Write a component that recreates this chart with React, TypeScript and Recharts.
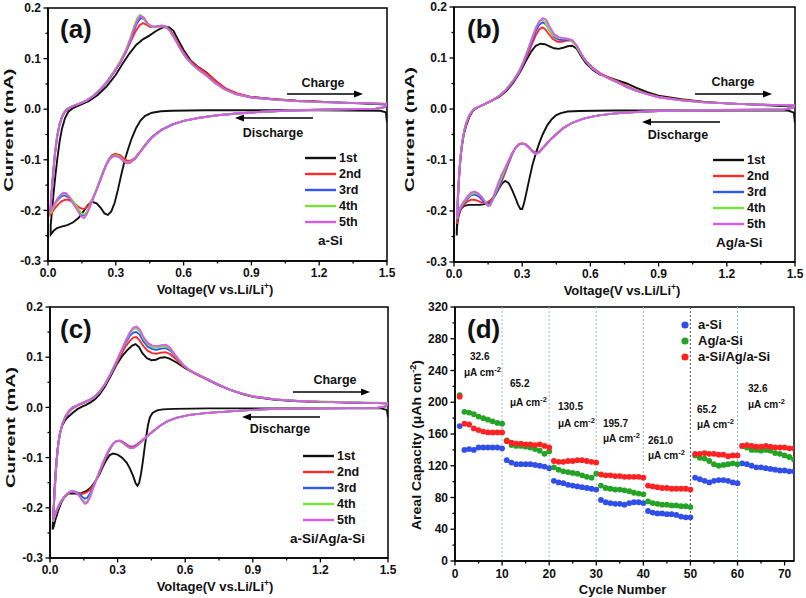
import React from 'react';
import {
  LineChart, Line, ScatterChart, Scatter, XAxis, YAxis,
  ReferenceArea, ReferenceLine, Legend,
} from 'recharts';

const FONT = '"Liberation Sans", Arial, Helvetica, sans-serif';

type Pt = [number, number];

// ---------- (a) a-Si : [voltage V, current mA], discharge then charge ----------
const aCycle1: Pt[] = [
  [1.5, -0.027], [1.495, -0.006], [1.47, -0.003], [1.2, -0.002], [0.9, -0.002], [0.7, -0.002], [0.55, -0.003],
  [0.5, -0.004], [0.46, -0.007], [0.43, -0.013], [0.41, -0.022], [0.39, -0.037], [0.37, -0.058], [0.355, -0.078],
  [0.34, -0.1], [0.325, -0.128], [0.31, -0.158], [0.295, -0.185], [0.28, -0.202], [0.265, -0.209], [0.25, -0.206],
  [0.235, -0.196], [0.215, -0.186], [0.195, -0.183], [0.175, -0.19], [0.155, -0.203], [0.135, -0.215], [0.11, -0.224],
  [0.085, -0.229], [0.06, -0.232], [0.04, -0.235], [0.025, -0.24], [0.012, -0.248],
  [0.012, -0.228], [0.018, -0.2], [0.025, -0.165], [0.033, -0.13], [0.042, -0.095], [0.052, -0.062], [0.062, -0.038],
  [0.075, -0.018], [0.09, -0.005], [0.11, 0.002], [0.14, 0.008], [0.18, 0.016], [0.22, 0.028], [0.26, 0.045],
  [0.3, 0.068], [0.33, 0.09], [0.36, 0.11], [0.39, 0.127], [0.42, 0.138], [0.45, 0.146], [0.48, 0.155], [0.51, 0.162],
  [0.535, 0.162], [0.555, 0.155], [0.575, 0.138], [0.6, 0.117], [0.63, 0.097], [0.66, 0.085], [0.7, 0.073],
  [0.74, 0.057], [0.78, 0.042], [0.83, 0.031], [0.9, 0.024], [1.0, 0.02], [1.1, 0.017], [1.2, 0.015], [1.3, 0.013],
  [1.4, 0.011], [1.5, 0.009],
];
const aCycle2: Pt[] = [
  [1.5, 0.01], [1.49, 0.004], [1.45, 0.001], [1.3, 0], [1.1, -0.002], [0.95, -0.005], [0.85, -0.008], [0.75, -0.012],
  [0.67, -0.017], [0.6, -0.023], [0.55, -0.03], [0.5, -0.041], [0.46, -0.055], [0.43, -0.07], [0.405, -0.085],
  [0.385, -0.096], [0.365, -0.102], [0.35, -0.102], [0.335, -0.097], [0.32, -0.091], [0.3, -0.088], [0.285, -0.09],
  [0.27, -0.098], [0.255, -0.112], [0.24, -0.13], [0.225, -0.148], [0.21, -0.164], [0.195, -0.179], [0.18, -0.19],
  [0.165, -0.196], [0.15, -0.197], [0.135, -0.193], [0.12, -0.187], [0.105, -0.182], [0.09, -0.179], [0.075, -0.179],
  [0.06, -0.182], [0.045, -0.188], [0.03, -0.196], [0.018, -0.204], [0.01, -0.208],
  [0.01, -0.2], [0.015, -0.17], [0.022, -0.133], [0.03, -0.093], [0.04, -0.057], [0.05, -0.033], [0.062, -0.016],
  [0.075, -0.005], [0.09, 0.001], [0.11, 0.006], [0.14, 0.011], [0.17, 0.017], [0.2, 0.026], [0.23, 0.038],
  [0.26, 0.053], [0.29, 0.071], [0.32, 0.092], [0.345, 0.113], [0.365, 0.133], [0.385, 0.152], [0.405, 0.166],
  [0.42, 0.17], [0.435, 0.167], [0.45, 0.163], [0.47, 0.162], [0.49, 0.164], [0.51, 0.165], [0.53, 0.161],
  [0.55, 0.15], [0.57, 0.135], [0.595, 0.116], [0.62, 0.1], [0.65, 0.087], [0.68, 0.078], [0.71, 0.068],
  [0.75, 0.053], [0.79, 0.04], [0.84, 0.031], [0.9, 0.024], [1.0, 0.02], [1.1, 0.017], [1.2, 0.015], [1.3, 0.013],
  [1.4, 0.012], [1.5, 0.01],
];
const aCycle3: Pt[] = [
  [1.5, 0.01], [1.49, 0.004], [1.45, 0.001], [1.3, 0], [1.1, -0.002], [0.95, -0.005], [0.85, -0.008], [0.75, -0.012],
  [0.67, -0.017], [0.6, -0.023], [0.55, -0.03], [0.5, -0.041], [0.46, -0.055], [0.43, -0.071], [0.405, -0.086],
  [0.385, -0.098], [0.365, -0.105], [0.35, -0.107], [0.335, -0.103], [0.32, -0.096], [0.305, -0.092], [0.29, -0.092],
  [0.275, -0.097], [0.26, -0.107], [0.245, -0.122], [0.23, -0.14], [0.215, -0.158], [0.2, -0.175], [0.185, -0.192],
  [0.172, -0.204], [0.162, -0.21], [0.152, -0.209], [0.14, -0.203], [0.125, -0.193], [0.11, -0.184], [0.095, -0.176],
  [0.08, -0.171], [0.068, -0.17], [0.055, -0.174], [0.04, -0.181], [0.025, -0.192], [0.012, -0.202],
  [0.012, -0.195], [0.016, -0.165], [0.022, -0.13], [0.03, -0.09], [0.04, -0.055], [0.05, -0.032], [0.062, -0.015],
  [0.075, -0.004], [0.09, 0.002], [0.11, 0.006], [0.14, 0.011], [0.17, 0.017], [0.2, 0.026], [0.23, 0.038],
  [0.26, 0.053], [0.29, 0.072], [0.32, 0.093], [0.345, 0.114], [0.365, 0.136], [0.38, 0.155], [0.395, 0.171],
  [0.41, 0.18], [0.425, 0.178], [0.44, 0.169], [0.46, 0.163], [0.48, 0.163], [0.5, 0.165], [0.52, 0.164],
  [0.54, 0.155], [0.56, 0.14], [0.585, 0.12], [0.61, 0.103], [0.64, 0.088], [0.67, 0.077], [0.7, 0.067],
  [0.74, 0.052], [0.78, 0.04], [0.83, 0.03], [0.9, 0.023], [1.0, 0.019], [1.1, 0.016], [1.2, 0.014], [1.3, 0.013],
  [1.4, 0.012], [1.5, 0.01],
];
const aCycle4: Pt[] = [
  [1.5, 0.01], [1.49, 0.004], [1.45, 0.001], [1.3, 0], [1.1, -0.002], [0.95, -0.005], [0.85, -0.008], [0.75, -0.012],
  [0.67, -0.017], [0.6, -0.023], [0.55, -0.031], [0.5, -0.042], [0.46, -0.056], [0.43, -0.071], [0.405, -0.086],
  [0.385, -0.097], [0.365, -0.104], [0.35, -0.106], [0.335, -0.102], [0.32, -0.095], [0.305, -0.091], [0.29, -0.092],
  [0.275, -0.097], [0.26, -0.107], [0.245, -0.122], [0.23, -0.14], [0.215, -0.158], [0.2, -0.175], [0.185, -0.191],
  [0.172, -0.203], [0.162, -0.208], [0.152, -0.207], [0.14, -0.201], [0.125, -0.191], [0.11, -0.181], [0.095, -0.173],
  [0.08, -0.168], [0.068, -0.167], [0.055, -0.171], [0.04, -0.18], [0.025, -0.193], [0.012, -0.206],
  [0.012, -0.198], [0.016, -0.167], [0.022, -0.131], [0.03, -0.09], [0.04, -0.054], [0.05, -0.031], [0.062, -0.014],
  [0.075, -0.003], [0.09, 0.002], [0.11, 0.006], [0.14, 0.011], [0.17, 0.017], [0.2, 0.026], [0.23, 0.039],
  [0.26, 0.055], [0.29, 0.074], [0.32, 0.096], [0.345, 0.118], [0.365, 0.142], [0.38, 0.163], [0.395, 0.18],
  [0.405, 0.186], [0.42, 0.181], [0.44, 0.169], [0.46, 0.163], [0.48, 0.162], [0.5, 0.164], [0.52, 0.163],
  [0.54, 0.154], [0.56, 0.139], [0.585, 0.119], [0.61, 0.102], [0.64, 0.087], [0.67, 0.076], [0.7, 0.066],
  [0.74, 0.051], [0.78, 0.039], [0.83, 0.03], [0.9, 0.023], [1.0, 0.019], [1.1, 0.016], [1.2, 0.014], [1.3, 0.013],
  [1.4, 0.012], [1.5, 0.011],
];
const aCycle5: Pt[] = [
  [1.5, 0.01], [1.49, 0.004], [1.45, 0.001], [1.3, 0], [1.1, -0.002], [0.95, -0.005], [0.85, -0.008], [0.75, -0.012],
  [0.67, -0.017], [0.6, -0.023], [0.55, -0.031], [0.5, -0.042], [0.46, -0.056], [0.43, -0.072], [0.405, -0.087],
  [0.385, -0.098], [0.365, -0.105], [0.35, -0.107], [0.335, -0.103], [0.32, -0.096], [0.305, -0.093], [0.29, -0.093],
  [0.275, -0.098], [0.26, -0.108], [0.245, -0.124], [0.23, -0.142], [0.215, -0.16], [0.2, -0.177], [0.185, -0.194],
  [0.172, -0.207], [0.16, -0.215], [0.15, -0.213], [0.14, -0.207], [0.125, -0.196], [0.11, -0.186], [0.095, -0.174],
  [0.08, -0.166], [0.068, -0.165], [0.055, -0.17], [0.04, -0.178], [0.025, -0.19], [0.012, -0.2],
  [0.012, -0.193], [0.016, -0.163], [0.022, -0.128], [0.03, -0.089], [0.04, -0.054], [0.05, -0.031], [0.062, -0.014],
  [0.075, -0.004], [0.09, 0.002], [0.11, 0.006], [0.14, 0.011], [0.17, 0.017], [0.2, 0.026], [0.23, 0.038],
  [0.26, 0.053], [0.29, 0.072], [0.32, 0.093], [0.345, 0.115], [0.365, 0.138], [0.38, 0.158], [0.395, 0.175],
  [0.41, 0.185], [0.425, 0.181], [0.44, 0.17], [0.46, 0.164], [0.48, 0.163], [0.5, 0.165], [0.52, 0.164],
  [0.54, 0.155], [0.56, 0.14], [0.585, 0.12], [0.61, 0.103], [0.64, 0.088], [0.67, 0.077], [0.7, 0.067],
  [0.74, 0.052], [0.78, 0.04], [0.83, 0.03], [0.9, 0.023], [1.0, 0.019], [1.1, 0.016], [1.2, 0.014], [1.3, 0.013],
  [1.4, 0.012], [1.48, 0.011], [1.5, 0.01],
];

// ---------- (b) Ag/a-Si ----------
const bCycle1: Pt[] = [
  [1.5, -0.028], [1.495, -0.007], [1.47, -0.003], [1.2, -0.003], [0.9, -0.003], [0.7, -0.003], [0.55, -0.004],
  [0.5, -0.005], [0.47, -0.008], [0.45, -0.012], [0.43, -0.02], [0.41, -0.032], [0.39, -0.05], [0.375, -0.067],
  [0.36, -0.087], [0.345, -0.11], [0.33, -0.14], [0.318, -0.165], [0.308, -0.185], [0.3, -0.196], [0.292, -0.196],
  [0.282, -0.188], [0.27, -0.174], [0.255, -0.158], [0.24, -0.145], [0.225, -0.141], [0.21, -0.147], [0.195, -0.158],
  [0.18, -0.169], [0.16, -0.18], [0.14, -0.186], [0.115, -0.188], [0.09, -0.188], [0.065, -0.188], [0.045, -0.19],
  [0.03, -0.196], [0.02, -0.21], [0.014, -0.228], [0.012, -0.248],
  [0.012, -0.24], [0.016, -0.19], [0.02, -0.15], [0.026, -0.11], [0.033, -0.078], [0.042, -0.052], [0.054, -0.032],
  [0.068, -0.015], [0.084, -0.003], [0.1, 0.002], [0.128, 0.008], [0.16, 0.015], [0.2, 0.024], [0.23, 0.035],
  [0.26, 0.051], [0.29, 0.072], [0.315, 0.093], [0.34, 0.113], [0.36, 0.124], [0.38, 0.128], [0.4, 0.127],
  [0.42, 0.123], [0.44, 0.119], [0.46, 0.118], [0.48, 0.12], [0.5, 0.123], [0.52, 0.124], [0.54, 0.118],
  [0.56, 0.103], [0.58, 0.09], [0.61, 0.077], [0.64, 0.068], [0.68, 0.062], [0.72, 0.056], [0.76, 0.05],
  [0.8, 0.042], [0.85, 0.033], [0.9, 0.026], [1.0, 0.019], [1.1, 0.014], [1.2, 0.011], [1.3, 0.009], [1.4, 0.007],
  [1.5, 0.005],
];
const bCycle2: Pt[] = [
  [1.5, 0.007], [1.49, 0.002], [1.45, -0.001], [1.2, -0.002], [1.0, -0.003], [0.9, -0.004], [0.8, -0.006],
  [0.7, -0.009], [0.63, -0.013], [0.57, -0.019], [0.52, -0.027], [0.48, -0.037], [0.45, -0.049], [0.42, -0.061],
  [0.395, -0.074], [0.375, -0.083], [0.36, -0.086], [0.345, -0.082], [0.33, -0.075], [0.315, -0.069], [0.3, -0.067],
  [0.285, -0.069], [0.27, -0.077], [0.255, -0.09], [0.24, -0.107], [0.225, -0.125], [0.21, -0.142], [0.195, -0.158],
  [0.18, -0.17], [0.165, -0.178], [0.15, -0.182], [0.135, -0.184], [0.12, -0.183], [0.105, -0.18], [0.09, -0.178],
  [0.075, -0.178], [0.06, -0.181], [0.045, -0.187], [0.03, -0.196], [0.02, -0.207], [0.013, -0.225],
  [0.013, -0.22], [0.017, -0.18], [0.022, -0.138], [0.028, -0.1], [0.036, -0.068], [0.045, -0.044], [0.055, -0.027],
  [0.068, -0.013], [0.084, -0.003], [0.1, 0.002], [0.128, 0.008], [0.16, 0.015], [0.2, 0.025], [0.23, 0.037],
  [0.26, 0.053], [0.285, 0.07], [0.305, 0.088], [0.325, 0.108], [0.345, 0.129], [0.36, 0.145], [0.375, 0.156],
  [0.388, 0.16], [0.4, 0.157], [0.415, 0.148], [0.435, 0.137], [0.455, 0.132], [0.475, 0.132], [0.495, 0.134],
  [0.515, 0.134], [0.535, 0.126], [0.555, 0.111], [0.575, 0.097], [0.605, 0.083], [0.64, 0.071], [0.68, 0.062],
  [0.72, 0.054], [0.76, 0.045], [0.8, 0.037], [0.85, 0.03], [0.9, 0.024], [1.0, 0.018], [1.1, 0.014], [1.2, 0.011],
  [1.3, 0.009], [1.4, 0.008], [1.5, 0.007],
];
const bCycle3: Pt[] = [
  [1.5, 0.007], [1.49, 0.002], [1.45, -0.001], [1.2, -0.002], [1.0, -0.003], [0.9, -0.004], [0.8, -0.006],
  [0.7, -0.009], [0.63, -0.013], [0.57, -0.019], [0.52, -0.027], [0.48, -0.038], [0.45, -0.05], [0.42, -0.062],
  [0.395, -0.075], [0.375, -0.084], [0.36, -0.087], [0.345, -0.083], [0.33, -0.076], [0.315, -0.07], [0.3, -0.068],
  [0.285, -0.07], [0.27, -0.076], [0.255, -0.088], [0.24, -0.104], [0.225, -0.121], [0.21, -0.138], [0.195, -0.155],
  [0.18, -0.17], [0.165, -0.181], [0.152, -0.186], [0.14, -0.186], [0.128, -0.181], [0.115, -0.174], [0.1, -0.169],
  [0.087, -0.168], [0.073, -0.17], [0.06, -0.176], [0.045, -0.184], [0.03, -0.194], [0.02, -0.204], [0.013, -0.218],
  [0.013, -0.212], [0.017, -0.172], [0.022, -0.132], [0.028, -0.096], [0.036, -0.066], [0.045, -0.043],
  [0.055, -0.026], [0.068, -0.012], [0.084, -0.002], [0.1, 0.003], [0.128, 0.008], [0.16, 0.015], [0.2, 0.026],
  [0.23, 0.038], [0.26, 0.054], [0.285, 0.071], [0.305, 0.09], [0.325, 0.112], [0.345, 0.135], [0.36, 0.153],
  [0.375, 0.165], [0.39, 0.17], [0.405, 0.166], [0.42, 0.154], [0.44, 0.141], [0.46, 0.136], [0.48, 0.135],
  [0.5, 0.136], [0.52, 0.134], [0.54, 0.124], [0.56, 0.108], [0.58, 0.094], [0.61, 0.08], [0.64, 0.069],
  [0.68, 0.06], [0.72, 0.052], [0.76, 0.043], [0.8, 0.036], [0.85, 0.029], [0.9, 0.023], [1.0, 0.017],
  [1.1, 0.013], [1.2, 0.011], [1.3, 0.009], [1.4, 0.008], [1.5, 0.007],
];
const bCycle4: Pt[] = [
  [1.5, 0.007], [1.49, 0.002], [1.45, -0.001], [1.2, -0.002], [1.0, -0.003], [0.9, -0.004], [0.8, -0.006],
  [0.7, -0.009], [0.63, -0.013], [0.57, -0.019], [0.52, -0.027], [0.48, -0.038], [0.45, -0.05], [0.42, -0.062],
  [0.395, -0.075], [0.375, -0.085], [0.36, -0.088], [0.345, -0.084], [0.33, -0.076], [0.315, -0.07], [0.3, -0.068],
  [0.285, -0.07], [0.27, -0.076], [0.255, -0.087], [0.24, -0.102], [0.225, -0.118], [0.21, -0.134], [0.195, -0.15],
  [0.18, -0.166], [0.168, -0.181], [0.157, -0.189], [0.147, -0.188], [0.135, -0.18], [0.12, -0.171], [0.105, -0.166],
  [0.09, -0.165], [0.075, -0.167], [0.06, -0.173], [0.045, -0.182], [0.03, -0.192], [0.02, -0.202], [0.013, -0.216],
  [0.013, -0.21], [0.017, -0.17], [0.022, -0.13], [0.028, -0.094], [0.036, -0.064], [0.045, -0.041],
  [0.055, -0.025], [0.068, -0.011], [0.084, -0.001], [0.1, 0.003], [0.128, 0.008], [0.16, 0.015], [0.2, 0.026],
  [0.23, 0.039], [0.26, 0.056], [0.285, 0.074], [0.305, 0.093], [0.325, 0.117], [0.345, 0.142], [0.36, 0.16],
  [0.375, 0.172], [0.387, 0.175], [0.4, 0.171], [0.415, 0.158], [0.435, 0.145], [0.455, 0.14], [0.475, 0.139],
  [0.495, 0.138], [0.515, 0.135], [0.535, 0.125], [0.555, 0.11], [0.575, 0.096], [0.605, 0.081], [0.64, 0.069],
  [0.68, 0.06], [0.72, 0.052], [0.76, 0.043], [0.8, 0.036], [0.85, 0.029], [0.9, 0.023], [1.0, 0.017],
  [1.1, 0.013], [1.2, 0.011], [1.3, 0.009], [1.4, 0.008], [1.5, 0.007],
];
const bCycle5: Pt[] = [
  [1.5, 0.007], [1.49, 0.002], [1.45, -0.001], [1.2, -0.002], [1.0, -0.003], [0.9, -0.004], [0.8, -0.006],
  [0.7, -0.009], [0.63, -0.013], [0.57, -0.019], [0.52, -0.027], [0.48, -0.038], [0.45, -0.05], [0.42, -0.062],
  [0.395, -0.075], [0.375, -0.085], [0.36, -0.088], [0.345, -0.084], [0.33, -0.076], [0.315, -0.07], [0.3, -0.068],
  [0.285, -0.07], [0.27, -0.076], [0.255, -0.087], [0.24, -0.101], [0.225, -0.115], [0.21, -0.128], [0.195, -0.145],
  [0.18, -0.163], [0.168, -0.18], [0.158, -0.19], [0.148, -0.19], [0.135, -0.182], [0.12, -0.172], [0.105, -0.165],
  [0.09, -0.162], [0.075, -0.164], [0.06, -0.171], [0.045, -0.18], [0.03, -0.19], [0.02, -0.2], [0.013, -0.215],
  [0.013, -0.21], [0.017, -0.17], [0.022, -0.13], [0.028, -0.095], [0.036, -0.065], [0.045, -0.042],
  [0.055, -0.026], [0.068, -0.012], [0.084, -0.002], [0.1, 0.003], [0.128, 0.008], [0.16, 0.015], [0.2, 0.026],
  [0.23, 0.038], [0.26, 0.055], [0.285, 0.072], [0.305, 0.092], [0.325, 0.115], [0.345, 0.14], [0.36, 0.158],
  [0.375, 0.171], [0.39, 0.178], [0.405, 0.175], [0.42, 0.162], [0.44, 0.147], [0.46, 0.141], [0.48, 0.139],
  [0.5, 0.138], [0.52, 0.135], [0.54, 0.124], [0.56, 0.108], [0.58, 0.094], [0.61, 0.08], [0.64, 0.069],
  [0.68, 0.06], [0.72, 0.052], [0.76, 0.043], [0.8, 0.036], [0.85, 0.029], [0.9, 0.023], [1.0, 0.017],
  [1.1, 0.013], [1.2, 0.011], [1.3, 0.009], [1.4, 0.008], [1.5, 0.007],
];

// ---------- (c) a-Si/Ag/a-Si ----------
const cCycle1: Pt[] = [
  [1.5, -0.02], [1.495, -0.005], [1.47, -0.002], [1.2, -0.002], [0.9, -0.002], [0.7, -0.002], [0.55, -0.003],
  [0.5, -0.004], [0.475, -0.006], [0.455, -0.011], [0.443, -0.02], [0.435, -0.035], [0.428, -0.055], [0.42, -0.08],
  [0.412, -0.108], [0.404, -0.132], [0.396, -0.15], [0.388, -0.156], [0.38, -0.151], [0.37, -0.138], [0.355, -0.122],
  [0.34, -0.11], [0.32, -0.1], [0.3, -0.094], [0.28, -0.092], [0.265, -0.095], [0.25, -0.105], [0.235, -0.118],
  [0.22, -0.133], [0.2, -0.148], [0.18, -0.16], [0.16, -0.167], [0.14, -0.171], [0.12, -0.172], [0.1, -0.171],
  [0.08, -0.172], [0.065, -0.178], [0.05, -0.19], [0.037, -0.205], [0.025, -0.222], [0.017, -0.236], [0.012, -0.243],
  [0.012, -0.238], [0.016, -0.2], [0.02, -0.16], [0.026, -0.12], [0.033, -0.085], [0.042, -0.056], [0.052, -0.038],
  [0.065, -0.027], [0.08, -0.019], [0.1, -0.011], [0.12, -0.004], [0.14, 0.001], [0.16, 0.005], [0.18, 0.01],
  [0.2, 0.016], [0.22, 0.026], [0.245, 0.042], [0.27, 0.063], [0.295, 0.085], [0.32, 0.102], [0.345, 0.115],
  [0.365, 0.123], [0.38, 0.126], [0.395, 0.12], [0.41, 0.108], [0.43, 0.098], [0.45, 0.094], [0.47, 0.095],
  [0.49, 0.099], [0.51, 0.1], [0.53, 0.097], [0.56, 0.09], [0.6, 0.078], [0.65, 0.066], [0.7, 0.055], [0.75, 0.044],
  [0.8, 0.035], [0.85, 0.027], [0.9, 0.021], [1.0, 0.015], [1.1, 0.012], [1.2, 0.011], [1.3, 0.01], [1.4, 0.009],
  [1.5, 0.008],
];
const cCycle2: Pt[] = [
  [1.5, 0.008], [1.49, 0.002], [1.45, -0.001], [1.2, -0.002], [1.0, -0.003], [0.9, -0.005], [0.8, -0.008],
  [0.7, -0.011], [0.62, -0.015], [0.56, -0.021], [0.52, -0.028], [0.49, -0.036], [0.46, -0.046], [0.43, -0.057],
  [0.405, -0.067], [0.385, -0.074], [0.37, -0.078], [0.355, -0.078], [0.34, -0.074], [0.325, -0.069], [0.31, -0.066],
  [0.295, -0.067], [0.28, -0.073], [0.265, -0.084], [0.25, -0.098], [0.235, -0.114], [0.22, -0.13], [0.205, -0.145],
  [0.19, -0.157], [0.175, -0.165], [0.16, -0.17], [0.145, -0.172], [0.13, -0.172], [0.115, -0.17], [0.1, -0.168],
  [0.088, -0.169], [0.075, -0.174], [0.06, -0.181], [0.045, -0.191], [0.032, -0.203], [0.022, -0.215], [0.014, -0.228],
  [0.014, -0.224], [0.018, -0.19], [0.023, -0.15], [0.029, -0.11], [0.036, -0.076], [0.045, -0.051], [0.055, -0.035],
  [0.068, -0.02], [0.085, -0.008], [0.1, -0.002], [0.12, 0.003], [0.14, 0.007], [0.16, 0.011], [0.18, 0.016],
  [0.2, 0.022], [0.22, 0.031], [0.245, 0.046], [0.27, 0.066], [0.295, 0.088], [0.315, 0.105], [0.335, 0.121],
  [0.355, 0.133], [0.37, 0.139], [0.383, 0.14], [0.397, 0.134], [0.413, 0.123], [0.433, 0.113], [0.453, 0.108],
  [0.473, 0.107], [0.493, 0.109], [0.513, 0.11], [0.533, 0.106], [0.56, 0.096], [0.59, 0.083], [0.62, 0.073],
  [0.66, 0.064], [0.7, 0.056], [0.75, 0.045], [0.8, 0.035], [0.85, 0.028], [0.9, 0.022], [1.0, 0.016], [1.1, 0.013],
  [1.2, 0.011], [1.3, 0.01], [1.4, 0.009], [1.5, 0.008],
];
const cCycle3: Pt[] = [
  [1.5, 0.008], [1.49, 0.002], [1.45, -0.001], [1.2, -0.002], [1.0, -0.003], [0.9, -0.005], [0.8, -0.008],
  [0.7, -0.011], [0.62, -0.015], [0.56, -0.021], [0.52, -0.028], [0.49, -0.036], [0.46, -0.047], [0.43, -0.058],
  [0.405, -0.068], [0.385, -0.076], [0.37, -0.08], [0.355, -0.08], [0.34, -0.076], [0.325, -0.07], [0.31, -0.067],
  [0.295, -0.067], [0.28, -0.072], [0.265, -0.083], [0.25, -0.096], [0.235, -0.112], [0.22, -0.128], [0.205, -0.145],
  [0.19, -0.16], [0.177, -0.172], [0.165, -0.18], [0.155, -0.182], [0.145, -0.179], [0.132, -0.173], [0.118, -0.169],
  [0.103, -0.167], [0.09, -0.168], [0.075, -0.173], [0.06, -0.18], [0.045, -0.19], [0.032, -0.202], [0.022, -0.214],
  [0.014, -0.226],
  [0.014, -0.222], [0.018, -0.19], [0.023, -0.15], [0.029, -0.11], [0.036, -0.075], [0.045, -0.05], [0.055, -0.033],
  [0.068, -0.019], [0.085, -0.007], [0.1, -0.001], [0.12, 0.004], [0.14, 0.008], [0.16, 0.012], [0.18, 0.016],
  [0.2, 0.022], [0.22, 0.031], [0.245, 0.047], [0.27, 0.067], [0.295, 0.09], [0.315, 0.11], [0.335, 0.128],
  [0.355, 0.143], [0.37, 0.149], [0.383, 0.15], [0.398, 0.145], [0.414, 0.132], [0.434, 0.121], [0.454, 0.116],
  [0.474, 0.115], [0.494, 0.117], [0.514, 0.118], [0.534, 0.113], [0.56, 0.1], [0.59, 0.085], [0.62, 0.074],
  [0.66, 0.065], [0.7, 0.056], [0.75, 0.045], [0.8, 0.035], [0.85, 0.028], [0.9, 0.022], [1.0, 0.016], [1.1, 0.013],
  [1.2, 0.011], [1.3, 0.01], [1.4, 0.009], [1.5, 0.008],
];
const cCycle4: Pt[] = [
  [1.5, 0.009], [1.49, 0.002], [1.45, -0.001], [1.2, -0.002], [1.0, -0.003], [0.9, -0.005], [0.8, -0.008],
  [0.7, -0.011], [0.62, -0.015], [0.56, -0.021], [0.52, -0.028], [0.49, -0.036], [0.46, -0.047], [0.43, -0.058],
  [0.405, -0.069], [0.385, -0.077], [0.37, -0.081], [0.355, -0.081], [0.34, -0.077], [0.325, -0.071], [0.31, -0.067],
  [0.295, -0.067], [0.28, -0.072], [0.265, -0.082], [0.25, -0.095], [0.235, -0.11], [0.22, -0.127], [0.205, -0.145],
  [0.19, -0.162], [0.177, -0.178], [0.165, -0.187], [0.156, -0.189], [0.146, -0.185], [0.132, -0.177], [0.118, -0.17],
  [0.103, -0.167], [0.09, -0.168], [0.075, -0.173], [0.06, -0.181], [0.045, -0.191], [0.032, -0.203], [0.022, -0.215],
  [0.014, -0.228],
  [0.014, -0.224], [0.018, -0.19], [0.023, -0.15], [0.029, -0.11], [0.036, -0.075], [0.045, -0.05], [0.055, -0.032],
  [0.068, -0.018], [0.085, -0.006], [0.1, 0], [0.12, 0.004], [0.14, 0.008], [0.16, 0.012], [0.18, 0.016],
  [0.2, 0.022], [0.22, 0.031], [0.245, 0.047], [0.27, 0.068], [0.295, 0.091], [0.315, 0.111], [0.335, 0.131],
  [0.355, 0.148], [0.37, 0.156], [0.384, 0.157], [0.399, 0.151], [0.415, 0.137], [0.435, 0.125], [0.455, 0.12],
  [0.475, 0.119], [0.495, 0.121], [0.515, 0.122], [0.535, 0.116], [0.56, 0.101], [0.59, 0.085], [0.62, 0.074],
  [0.66, 0.065], [0.7, 0.056], [0.75, 0.045], [0.8, 0.035], [0.85, 0.028], [0.9, 0.022], [1.0, 0.016], [1.1, 0.013],
  [1.2, 0.012], [1.3, 0.011], [1.4, 0.01], [1.5, 0.009],
];
const cCycle5: Pt[] = [
  [1.5, 0.008], [1.49, 0.002], [1.45, -0.001], [1.2, -0.002], [1.0, -0.003], [0.9, -0.005], [0.8, -0.008],
  [0.7, -0.011], [0.62, -0.015], [0.56, -0.021], [0.52, -0.028], [0.49, -0.036], [0.46, -0.047], [0.43, -0.058],
  [0.405, -0.069], [0.385, -0.077], [0.37, -0.081], [0.355, -0.081], [0.34, -0.077], [0.325, -0.071], [0.31, -0.067],
  [0.295, -0.067], [0.28, -0.072], [0.265, -0.082], [0.25, -0.095], [0.235, -0.11], [0.22, -0.127], [0.205, -0.145],
  [0.19, -0.163], [0.177, -0.18], [0.165, -0.19], [0.155, -0.192], [0.145, -0.187], [0.132, -0.178], [0.118, -0.17],
  [0.103, -0.167], [0.09, -0.168], [0.075, -0.173], [0.06, -0.18], [0.045, -0.19], [0.032, -0.202], [0.022, -0.214],
  [0.014, -0.226],
  [0.014, -0.222], [0.018, -0.19], [0.023, -0.15], [0.029, -0.11], [0.036, -0.075], [0.045, -0.05], [0.055, -0.032],
  [0.068, -0.018], [0.085, -0.006], [0.1, 0], [0.12, 0.004], [0.14, 0.008], [0.16, 0.012], [0.18, 0.016],
  [0.2, 0.022], [0.22, 0.031], [0.245, 0.047], [0.27, 0.068], [0.295, 0.092], [0.315, 0.112], [0.335, 0.132],
  [0.355, 0.15], [0.37, 0.159], [0.385, 0.161], [0.4, 0.154], [0.415, 0.14], [0.435, 0.128], [0.455, 0.123],
  [0.475, 0.122], [0.495, 0.124], [0.515, 0.125], [0.535, 0.118], [0.56, 0.102], [0.59, 0.085], [0.62, 0.074],
  [0.66, 0.065], [0.7, 0.056], [0.75, 0.045], [0.8, 0.035], [0.85, 0.028], [0.9, 0.022], [1.0, 0.016], [1.1, 0.013],
  [1.2, 0.011], [1.3, 0.01], [1.4, 0.009], [1.5, 0.008],
];

const cycleNames = ['1st', '2nd', '3rd', '4th', '5th'];
const cycleColors = ['#111111', '#ff2a2a', '#3454f0', '#74e23c', '#d45ce8'];

const voltageTicks = [0, 0.15, 0.3, 0.45, 0.6, 0.75, 0.9, 1.05, 1.2, 1.35, 1.5];
const currentTicks = [-0.3, -0.25, -0.2, -0.15, -0.1, -0.05, 0, 0.05, 0.1, 0.15, 0.2];

// ---------- (d) rate capability ----------
const cycleNumbers = [
  1, 2, 3, 4, 5, 6, 7, 8, 9, 10, 11, 12, 13, 14, 15, 16, 17, 18, 19, 20, 21, 22, 23, 24, 25, 26, 27, 28, 29, 30,
  31, 32, 33, 34, 35, 36, 37, 38, 39, 40, 41, 42, 43, 44, 45, 46, 47, 48, 49, 50, 51, 52, 53, 54, 55, 56, 57, 58,
  59, 60, 61, 62, 63, 64, 65, 66, 67, 68, 69, 70, 71, 72,
];
const capASi = [
  170, 140, 141, 140, 143, 143, 143, 143, 143, 142,
  127, 124, 122, 122, 122, 122, 121, 120, 119, 117,
  101, 99, 98, 96, 95, 94, 93, 92, 91, 90,
  77, 74, 73, 72, 72, 71, 73, 74, 74, 73,
  63, 61, 60, 60, 59, 59, 58, 56, 55, 55,
  105, 103, 101, 99, 101, 102, 102, 101, 99, 98,
  123, 122, 120, 118, 118, 117, 116, 115, 114, 114, 113, 113,
];
const capAgASi = [
  209, 188, 187, 185, 182, 180, 178, 176, 174, 173,
  152, 146, 145, 145, 144, 143, 141, 139, 135, 138,
  118, 115, 113, 112, 111, 110, 108, 106, 105, 110,
  95, 92, 91, 90, 90, 89, 88, 86, 85, 84,
  75, 73, 72, 71, 71, 70, 70, 69, 69, 68,
  133, 130, 129, 126, 122, 120, 121, 122, 123, 122,
  145, 143, 140, 140, 139, 140, 139, 136, 135, 133, 131, 128,
];
const capSandwich = [
  207, 173, 172, 167, 165, 163, 162, 162, 162, 162,
  151, 149, 148, 148, 147, 147, 146, 147, 145, 143,
  126, 125, 125, 126, 126, 127, 127, 126, 125, 124,
  109, 108, 108, 107, 107, 106, 106, 106, 106, 105,
  95, 94, 93, 92, 92, 91, 91, 91, 91, 90,
  135, 135, 136, 135, 135, 134, 134, 132, 133, 133,
  145, 146, 145, 144, 144, 145, 144, 143, 143, 143, 142, 142,
];
const rateSeriesNames = ['a-Si', 'Ag/a-Si', 'a-Si/Ag/a-Si'];
const rateSeriesColors = ['#2f4fe8', '#24a324', '#ff2222'];
const rateBoundaries = [10, 20, 30, 40, 50, 60];
const rateDensities = ['32.6', '65.2', '130.5', '195.7', '261.0', '65.2', '32.6'];
const cycleTicks = [0, 5, 10, 15, 20, 25, 30, 35, 40, 45, 50, 55, 60, 65, 70];
const capacityTicks = [0, 20, 40, 60, 80, 100, 120, 140, 160, 180, 200, 220, 240, 260, 280, 300, 320];

// where the density annotations sit inside panel (d): [numberX, numberBaseline, unitX, unitBaseline]
const rateLabelLayout = [
  [70, 60, 64, 76], [110, 87, 110, 106], [158, 110, 158, 127], [203, 127, 203, 142],
  [248, 144, 248, 159], [297, 113, 297, 128], [348, 92, 348, 108],
];

const toRows = (pts: Pt[]) => pts.map(([v, i]) => ({ v, i }));
const toScatter = (ys: number[]) => ys.map((y, k) => ({ x: cycleNumbers[k], y }));

const textStyle = { fontFamily: FONT, fontWeight: 700, fill: '#111' } as const;

const makeXTick = (fmt: (v: number) => string, labelDy: number) => (props: any) => {
  const { x, y, payload, index } = props;
  const y0 = y - 12;
  const major = index % 2 === 0;
  return (
    <g>
      <line x1={x} x2={x} y1={y0} y2={y0 + (major ? 4.5 : 2.5)} stroke="#000" strokeWidth={1.3} />
      {major && (
        <text x={x} y={y0 + labelDy} textAnchor="middle" fontSize={12} {...textStyle}>{fmt(payload.value)}</text>
      )}
    </g>
  );
};

const makeYTick = (fmt: (v: number) => string) => (props: any) => {
  const { x, y, payload, index } = props;
  const x0 = x + 7;
  const major = index % 2 === 0;
  return (
    <g>
      <line x1={x0} x2={x0 - (major ? 4.5 : 2.5)} y1={y} y2={y} stroke="#000" strokeWidth={1.3} />
      {major && (
        <text x={x0 - 7} y={y + 4.2} textAnchor="end" fontSize={12} {...textStyle}>{fmt(payload.value)}</text>
      )}
    </g>
  );
};

const Arrow = ({ x1, x2, y }: { x1: number; x2: number; y: number }) => {
  const dir = x2 > x1 ? 1 : -1;
  const hx = x2 - dir * 9;
  return (
    <g>
      <line x1={x1} x2={hx} y1={y} y2={y} stroke="#000" strokeWidth={1.6} />
      <polygon points={`${x2},${y} ${hx},${y - 3.6} ${hx},${y + 3.6}`} fill="#000" />
    </g>
  );
};

// keep legend entries in the order the series are drawn, whatever the library sorts them by
const inOrder = (payload: any[], names: string[]) =>
  [...(payload || [])].sort((a, b) => names.indexOf(a.value) - names.indexOf(b.value));

const CvLegend = ({ payload, sample, sampleShift }: any) => (
  <div style={{ fontFamily: FONT, fontWeight: 700, fontSize: 12.5, color: '#111', lineHeight: '16px' }}>
    {inOrder(payload, cycleNames).map((entry: any) => (
      <div key={entry.value} style={{ display: 'flex', alignItems: 'center', height: 16 }}>
        <svg width={31} height={4} style={{ display: 'block' }}>
          <line x1={0} y1={2} x2={31} y2={2} stroke={entry.color} strokeWidth={2.4} />
        </svg>
        <span style={{ marginLeft: 3 }}>{entry.value}</span>
      </div>
    ))}
    <div style={{ fontSize: 13.5, marginTop: 3, marginLeft: sampleShift, height: 18, whiteSpace: 'nowrap' }}>{sample}</div>
  </div>
);

const RateLegend = ({ payload }: any) => (
  <div style={{ fontFamily: FONT, fontWeight: 700, fontSize: 13, color: '#111', lineHeight: '16px' }}>
    {inOrder(payload, rateSeriesNames).map((entry: any) => (
      <div key={entry.value} style={{ display: 'flex', alignItems: 'center', height: 16 }}>
        <svg width={10} height={10} style={{ display: 'block' }}>
          <circle cx={5} cy={5} r={3.6} fill={entry.color} />
        </svg>
        <span style={{ marginLeft: 8 }}>{entry.value}</span>
      </div>
    ))}
  </div>
);

interface CvPanelProps {
  left: number; top: number; width: number; height: number;
  mTop: number; mRight: number; yAxisWidth: number; xAxisHeight: number;
  cycles: Pt[][];
  letter: string; letterX: number;
  sample: string;
  legend: { left: number; top: number; shift: number };
  yTitle: { x: number; y: number; len: number };
  xTitleShift: number; xTitleDy: number;
  charge: { x1: number; x2: number; y: number; tx: number; ty: number };
  discharge: { x1: number; x2: number; y: number; tx: number; ty: number };
}

const CvPanel = (p: CvPanelProps) => {
  const plotW = p.width - p.yAxisWidth - p.mRight;
  const plotBottom = p.height - p.xAxisHeight;
  const fmt = (v: number) => v.toFixed(1);
  return (
    <div style={{ position: 'absolute', left: p.left, top: p.top, width: p.width, height: p.height }}>
      <LineChart width={p.width} height={p.height} margin={{ top: p.mTop, right: p.mRight, bottom: 0, left: 0 }}>
        <XAxis
          type="number" dataKey="v" domain={[0, 1.5]} ticks={voltageTicks} interval={0} allowDataOverflow
          height={p.xAxisHeight} tickSize={4} tickMargin={8} tickLine={false}
          axisLine={{ stroke: '#000', strokeWidth: 1.5 }}
          tick={makeXTick(fmt, 16)}
          label={{
            content: () => (
              <text x={p.yAxisWidth + plotW / 2 + p.xTitleShift} y={plotBottom + p.xTitleDy} textAnchor="middle" fontSize={13} {...textStyle}>
                Voltage(V vs.Li/Li<tspan dy={-5} fontSize={8.5}>+</tspan><tspan dy={5}>)</tspan>
              </text>
            ),
          }}
        />
        <YAxis
          type="number" domain={[-0.3, 0.2]} ticks={currentTicks} interval={0} allowDataOverflow
          width={p.yAxisWidth} tickSize={4} tickMargin={3} tickLine={false}
          axisLine={{ stroke: '#000', strokeWidth: 1.5 }}
          tick={makeYTick(fmt)}
          label={{
            content: () => (
              <text
                x={p.yTitle.x + 4.5} y={p.yTitle.y} textAnchor="middle" fontSize={13} {...textStyle}
                transform={`rotate(-90, ${p.yTitle.x + 4.5}, ${p.yTitle.y})`}
                textLength={p.yTitle.len} lengthAdjust="spacingAndGlyphs"
              >
                Current (mA)
              </text>
            ),
          }}
        />
        <ReferenceArea x1={0} x2={1.5} y1={-0.3} y2={0.2} fill="none" stroke="#000" strokeWidth={1.5} ifOverflow="visible" />
        {p.cycles.map((c, k) => (
          <Line
            key={cycleNames[k]} name={cycleNames[k]} data={toRows(c)} dataKey="i" type="linear"
            stroke={cycleColors[k]} strokeWidth={1.9} dot={false} activeDot={false} isAnimationActive={false}
          />
        ))}
        <Legend
          layout="vertical" align="center" verticalAlign="middle"
          wrapperStyle={{ left: p.legend.left, top: p.legend.top, width: 'auto' }}
          content={(lp: any) => <CvLegend {...lp} sample={p.sample} sampleShift={p.legend.shift} />}
        />
      </LineChart>
      <svg width={p.width} height={p.height} style={{ position: 'absolute', left: 0, top: 0, pointerEvents: 'none' }}>
        <text x={p.letterX} y={38} fontSize={26} {...textStyle}>{p.letter}</text>
        <Arrow x1={p.charge.x1} x2={p.charge.x2} y={p.charge.y} />
        <text x={p.charge.tx} y={p.charge.ty} textAnchor="middle" fontSize={12.5} {...textStyle}>Charge</text>
        <Arrow x1={p.discharge.x1} x2={p.discharge.x2} y={p.discharge.y} />
        <text x={p.discharge.tx} y={p.discharge.ty} textAnchor="middle" fontSize={12.5} {...textStyle}>Discharge</text>
      </svg>
    </div>
  );
};

const RatePanel = () => {
  const width = 406;
  const height = 298;
  const yAxisWidth = 55;
  const xAxisHeight = 37;
  const mRight = 12;
  const plotW = width - yAxisWidth - mRight;
  const plotBottom = height - xAxisHeight;
  const series = [capASi, capAgASi, capSandwich];
  return (
    <div style={{ position: 'absolute', left: 400, top: 300, width, height }}>
      <ScatterChart width={width} height={height} margin={{ top: 7, right: mRight, bottom: 0, left: 0 }}>
        <XAxis
          type="number" dataKey="x" domain={[0, 72]} ticks={cycleTicks} interval={0} allowDataOverflow
          height={xAxisHeight} tickSize={4} tickMargin={8} tickLine={false}
          axisLine={{ stroke: '#000', strokeWidth: 1.5 }}
          tick={makeXTick((v) => String(v), 16.8)}
          label={{
            content: () => (
              <text x={yAxisWidth + plotW / 2 - 2} y={plotBottom + 32.5} textAnchor="middle" fontSize={13} {...textStyle}>
                Cycle Number
              </text>
            ),
          }}
        />
        <YAxis
          type="number" dataKey="y" domain={[0, 320]} ticks={capacityTicks} interval={0} allowDataOverflow
          width={yAxisWidth} tickSize={4} tickMargin={3} tickLine={false}
          axisLine={{ stroke: '#000', strokeWidth: 1.5 }}
          tick={makeYTick((v) => String(v))}
          label={{
            content: () => (
              <text
                x={20.5} y={145} textAnchor="middle" fontSize={13} {...textStyle}
                transform="rotate(-90, 20.5, 145)" textLength={170} lengthAdjust="spacingAndGlyphs"
              >
                Areal Capacity (μAh cm<tspan dy={-5} fontSize={8.5}>-2</tspan><tspan dy={5}>)</tspan>
              </text>
            ),
          }}
        />
        <ReferenceArea x1={0} x2={72} y1={0} y2={320} fill="none" stroke="#000" strokeWidth={1.5} ifOverflow="visible" />
        {rateBoundaries.map((b) => (
          <ReferenceLine key={b} x={b} stroke={b === 50 ? '#555' : '#9fb4d4'} strokeWidth={1} strokeDasharray="2 2" />
        ))}
        {series.map((ys, k) => (
          <Scatter
            key={rateSeriesNames[k]} name={rateSeriesNames[k]} data={toScatter(ys)} fill={rateSeriesColors[k]}
            isAnimationActive={false}
            shape={(sp: any) => <circle cx={sp.cx} cy={sp.cy} r={2.9} fill={rateSeriesColors[k]} />}
          />
        ))}
        <Legend
          layout="vertical" align="center" verticalAlign="middle"
          wrapperStyle={{ left: 280, top: 17, width: 'auto' }}
          content={(lp: any) => <RateLegend {...lp} />}
        />
      </ScatterChart>
      <svg width={width} height={height} style={{ position: 'absolute', left: 0, top: 0, pointerEvents: 'none' }}>
        <text x={67} y={38} fontSize={26} {...textStyle}>(d)</text>
        {rateDensities.map((d, k) => {
          const [nx, ny, ux, uy] = rateLabelLayout[k];
          return (
            <g key={k}>
              <text x={nx} y={ny} fontSize={10} {...textStyle}>{d}</text>
              <text x={ux} y={uy} fontSize={10} {...textStyle}>
                μA cm<tspan dy={-4} fontSize={7.5}>-2</tspan>
              </text>
            </g>
          );
        })}
      </svg>
    </div>
  );
};

export default function App() {
  return (
    <div style={{ position: 'absolute', left: 0, top: 0, width: 806, height: 598, background: '#fff', overflow: 'hidden' }}>
      <CvPanel
        left={0} top={0} width={400} height={300} mTop={8} mRight={13} yAxisWidth={48} xAxisHeight={39}
        cycles={[aCycle1, aCycle2, aCycle3, aCycle4, aCycle5]}
        letter="(a)" letterX={60} sample="a-Si"
        legend={{ left: 305, top: 150, shift: 13 }}
        yTitle={{ x: 8, y: 130, len: 123 }} xTitleShift={-2.5} xTitleDy={32.5}
        charge={{ x1: 287, x2: 363, y: 94, tx: 323, ty: 87 }}
        discharge={{ x1: 313, x2: 235, y: 118, tx: 273, ty: 137 }}
      />
      <CvPanel
        left={400} top={0} width={406} height={300} mTop={7} mRight={11} yAxisWidth={54} xAxisHeight={38}
        cycles={[bCycle1, bCycle2, bCycle3, bCycle4, bCycle5]}
        letter="(b)" letterX={67} sample="Ag/a-Si"
        legend={{ left: 313, top: 152, shift: 3 }}
        yTitle={{ x: 9.5, y: 129.5, len: 125 }} xTitleShift={-2.5} xTitleDy={33}
        charge={{ x1: 295, x2: 372, y: 94, tx: 333, ty: 86 }}
        discharge={{ x1: 320, x2: 242, y: 122, tx: 278, ty: 139 }}
      />
      <CvPanel
        left={0} top={300} width={400} height={298} mTop={7} mRight={12} yAxisWidth={50} xAxisHeight={40}
        cycles={[cCycle1, cCycle2, cCycle3, cCycle4, cCycle5]}
        letter="(c)" letterX={60} sample="a-Si/Ag/a-Si"
        legend={{ left: 303, top: 148, shift: -13 }}
        yTitle={{ x: 10, y: 127.5, len: 121 }} xTitleShift={-4} xTitleDy={32.5}
        charge={{ x1: 293, x2: 370, y: 92, tx: 335, ty: 84 }}
        discharge={{ x1: 320, x2: 242, y: 117, tx: 280, ty: 133 }}
      />
      <RatePanel />
    </div>
  );
}
